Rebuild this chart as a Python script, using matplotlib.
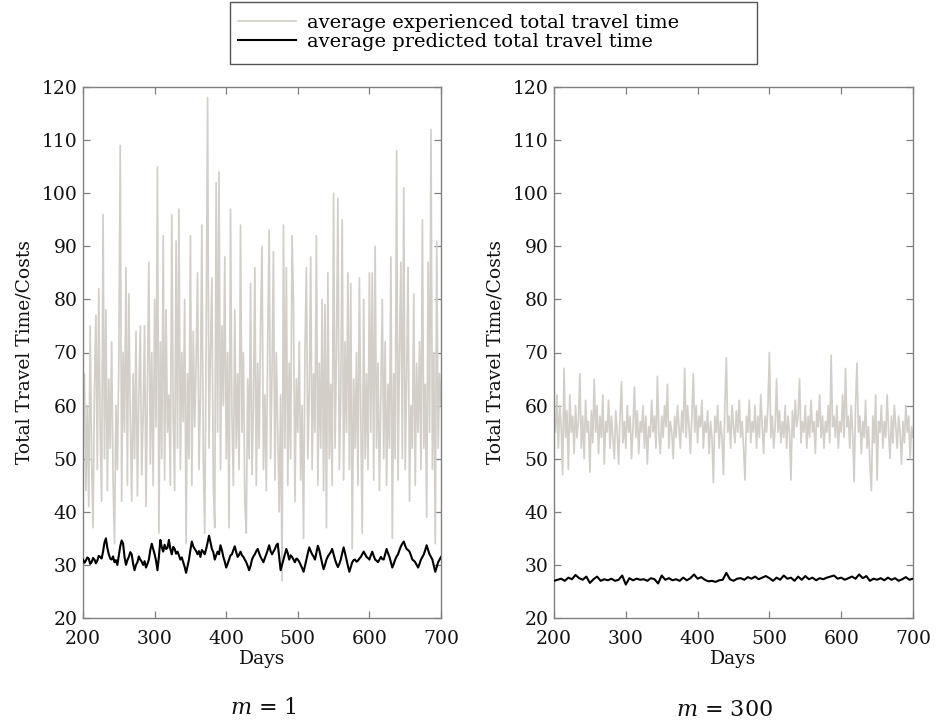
import numpy as np
import matplotlib
matplotlib.use("Agg")
import matplotlib.pyplot as plt
from matplotlib.patches import Rectangle

# ---------------- data ----------------
# m = 1, experienced (every 2 days, days 200..700)
exp_m1 = [
    58, 66, 44, 60, 41, 75, 50, 37, 63, 77,
    48, 82, 55, 42, 96, 50, 78, 44, 65, 52,
    72, 46, 34, 60, 48, 68, 109, 42, 70, 55,
    86, 45, 81, 58, 42, 66, 50, 74, 43, 62,
    75, 47, 58, 75, 41, 64, 87, 49, 70, 45,
    80, 56, 105, 36, 72, 50, 92, 46, 78, 55,
    62, 45, 96, 58, 44, 91, 52, 97, 48, 70,
    57, 80, 34, 66, 50, 92, 45, 74, 56, 68,
    85, 48, 62, 94, 50, 36, 72, 118, 52, 70,
    84, 45, 37, 102, 55, 104, 48, 75, 60, 88,
    50, 70, 37, 97, 58, 45, 78, 52, 66, 48,
    94, 55, 70, 42, 36, 65, 50, 83, 47, 60,
    86, 45, 68, 52, 75, 90, 48, 62, 44, 72,
    93, 50, 66, 89, 46, 70, 55, 40, 62, 27,
    94, 52, 86, 45, 68, 50, 92, 79, 42, 65,
    55, 72, 46, 60, 35, 70, 86, 50, 62, 88,
    48, 66, 55, 92, 45, 68, 52, 80, 44, 79,
    37, 85, 50, 64, 45, 100, 52, 70, 99, 48,
    62, 95, 46, 72, 55, 85, 48, 83, 33, 65,
    52, 70, 45, 84, 58, 36, 80, 50, 66, 48,
    85, 55, 85, 46, 90, 52, 68, 44, 62, 80,
    50, 72, 45, 64, 52, 88, 35, 66, 50, 108,
    46, 70, 87, 50, 101, 48, 65, 86, 42, 60,
    52, 81, 45, 68, 55, 72, 48, 95, 52, 64,
    39, 87, 55, 112, 48, 70, 34, 91, 52, 66,
    60,
]

# m = 1, predicted (every 2 days, days 200..700)
pred_m1 = [
    31.0, 30.4, 30.8, 31.4, 31.2, 30.2, 30.5, 31.3, 31.0, 30.3,
    30.8, 31.7, 31.5, 31.2, 32.5, 34.2, 35.0, 33.2, 32.0, 31.2,
    31.0, 31.6, 30.5, 30.9, 30.0, 31.8, 33.5, 34.6, 34.0, 31.5,
    30.0, 30.9, 31.5, 32.4, 32.0, 30.2, 29.0, 30.0, 30.5, 31.6,
    31.0, 30.6, 30.0, 30.7, 29.5, 30.2, 31.0, 32.8, 34.0, 33.0,
    32.0, 30.8, 29.0, 31.5, 34.7, 33.4, 32.5, 33.8, 33.0, 33.2,
    34.7, 33.0, 32.0, 33.4, 33.0, 32.1, 32.5, 31.8, 31.0, 31.4,
    30.5, 29.6, 28.5, 29.8, 31.0, 32.8, 34.4, 33.5, 33.0, 32.6,
    32.0, 32.6, 31.5, 32.8, 32.5, 32.0, 33.0, 34.2, 35.5, 34.3,
    33.0, 32.4, 31.0, 31.8, 32.5, 32.0, 33.7, 32.8, 31.5, 30.6,
    29.5, 30.2, 31.0, 31.8, 32.0, 32.8, 33.5, 32.4, 31.5, 31.9,
    32.5, 31.8, 31.5, 31.0, 30.5, 29.8, 29.0, 29.8, 31.0, 31.6,
    32.0, 32.6, 33.0, 32.2, 31.5, 31.0, 30.5, 31.3, 32.0, 32.8,
    33.7, 32.6, 32.0, 32.5, 33.0, 33.7, 34.0, 31.5, 29.0, 30.0,
    31.0, 32.0, 33.0, 32.2, 31.0, 31.8, 31.5, 31.0, 30.5, 31.2,
    31.0, 30.6, 30.0, 29.4, 28.7, 29.8, 31.0, 32.2, 33.3, 32.6,
    32.0, 31.6, 31.0, 32.3, 33.6, 32.8, 31.5, 30.3, 29.2, 30.0,
    31.0, 31.6, 32.0, 32.4, 33.0, 32.0, 31.0, 30.2, 29.6, 30.2,
    31.0, 32.2, 33.3, 32.2, 31.0, 29.8, 28.7, 29.6, 30.5, 30.9,
    31.0, 30.6, 30.8, 31.2, 31.5, 32.0, 32.5, 32.0, 31.5, 31.3,
    31.0, 31.8, 32.5, 31.7, 31.0, 30.8, 30.5, 31.0, 31.5, 31.1,
    31.0, 32.0, 33.0, 32.2, 31.5, 30.5, 29.5, 30.2, 31.0, 31.6,
    32.0, 32.8, 33.5, 34.0, 34.4, 33.6, 33.0, 32.8, 32.5, 31.8,
    31.0, 30.8, 30.5, 30.0, 29.5, 30.2, 31.0, 31.5, 32.0, 32.8,
    33.7, 32.8, 32.0, 31.5, 31.0, 29.8, 28.7, 29.6, 30.5, 31.0,
    31.5,
]

# m = 300, experienced (every 2 days, days 200..700)
exp_m300 = [
    58, 55, 62, 52, 60, 56, 47, 67, 54, 59,
    48, 62, 55, 58, 51, 60, 54, 57, 66, 52,
    58, 50, 61, 55, 57, 47.5, 59, 53, 65, 55,
    60, 51, 58, 54, 62, 49, 57, 55, 61, 52,
    58, 54, 50, 59, 55, 49, 58, 64.5, 53, 57,
    52, 60, 55, 58, 50, 56, 63.5, 54, 59, 51,
    57, 55, 60, 52, 58, 49, 56, 54, 61, 55,
    58, 52, 65.5, 55, 51, 58, 54, 60, 56, 64,
    52, 57, 55, 50, 58, 54, 60, 56, 52, 59,
    55, 67, 54, 60, 56, 51, 58, 66, 55, 60,
    53, 58, 56, 61, 52, 57, 55, 59, 51, 57,
    54, 45.5, 58, 55, 60, 52, 57, 54, 47, 60,
    69, 55, 58, 52, 60, 56, 53, 59, 55, 61,
    54, 57, 52, 46, 58, 55, 61, 53, 57, 55,
    60, 52, 58, 54, 62, 56, 51, 58, 55, 60,
    70, 54, 58, 52, 56, 65, 55, 59, 53, 57,
    54, 60, 52, 58, 55, 46, 59, 54, 61, 56,
    58, 65, 53, 57, 55, 60, 52, 58, 54, 61,
    55, 57, 51, 59, 56, 62, 54, 58, 52, 57,
    55, 60, 53, 69.5, 56, 58, 54, 60, 52, 57,
    55, 62, 54, 67, 56, 58, 52, 60, 55, 45.7,
    60, 68, 55, 58, 51, 57, 54, 61, 52, 56,
    49, 44, 58, 53, 62, 46, 57, 55, 60, 52,
    57, 54, 62, 55, 50, 58, 53, 60, 56, 52,
    58, 55, 49, 57, 53, 60, 55, 58, 50, 56,
    54,
]

# m = 300, predicted (every 5 days, days 200..700)
pred_m300 = [
    27.0, 27.2, 27.4, 27.0, 27.6, 27.3, 28.1, 27.5, 27.2, 27.8,
    26.6, 27.3, 27.8, 27.0, 27.3, 27.1, 27.4, 27.0, 27.2, 28.0,
    26.3, 27.5, 27.1, 27.4, 27.2, 27.3, 27.0, 27.5, 27.3, 26.5,
    28.0, 27.2, 27.5, 27.1, 27.3, 27.0, 27.6, 27.1, 27.5, 28.2,
    27.4, 27.7, 27.2, 26.9, 27.0, 26.8, 27.1, 27.2, 28.5, 27.3,
    27.0, 27.4, 27.5, 27.2, 27.7, 27.4, 27.8, 27.3, 27.6, 27.9,
    27.5, 27.0, 27.6, 27.2, 28.0, 27.4, 27.6, 27.0, 27.8, 27.2,
    27.9, 27.3, 27.6, 27.1, 27.5, 27.3, 27.6, 27.8, 28.0, 27.4,
    27.6, 27.2, 27.5, 27.8, 27.4, 28.2, 27.5, 27.9, 27.0, 27.4,
    27.2, 27.5, 27.1, 27.6, 27.2, 27.5, 27.0, 27.3, 27.7, 27.2,
    27.4,
]

legend_labels = ["average experienced total travel time",
                 "average predicted total travel time"]
panel_labels = [r"$m$ = 1", r"$m$ = 300"]
x_ticks = [200, 300, 400, 500, 600, 700]
y_ticks = [20, 30, 40, 50, 60, 70, 80, 90, 100, 110, 120]

# ---------------- style ----------------
GRAY = "#d3cfc8"
SPINE = "#808080"
W, H = 936, 724
plt.rcParams["font.family"] = ["DejaVu Serif"]
plt.rcParams["mathtext.fontset"] = "dejavuserif"

fig = plt.figure(figsize=(W / 100, H / 100), dpi=100)

def ax_rect(x0, y0, x1, y1):
    return [x0 / W, 1 - y1 / H, (x1 - x0) / W, (y1 - y0) / H]

ax1 = fig.add_axes(ax_rect(83, 87, 441, 618))
ax2 = fig.add_axes(ax_rect(554, 87, 913, 618))

handles = None
for ax, exp, pred in [(ax1, exp_m1, pred_m1), (ax2, exp_m300, pred_m300)]:
    d_exp = np.linspace(200, 700, len(exp))
    d_pred = np.linspace(200, 700, len(pred))
    h1, = ax.plot(d_exp, exp, color=GRAY, lw=1.25, zorder=2)
    h2, = ax.plot(d_pred, pred, color="black", lw=1.5, zorder=3)
    handles = [h1, h2]
    ax.set_xlim(200, 700)
    ax.set_ylim(20, 120)
    ax.set_xticks(x_ticks)
    ax.set_yticks(y_ticks)
    ax.tick_params(direction="in", length=5, width=0.9, color=SPINE,
                   top=True, right=True, labelsize=13.5, labelcolor="#111111")
    ax.tick_params(axis="x", pad=9)
    ax.tick_params(axis="y", pad=4)
    for s in ax.spines.values():
        s.set_color(SPINE)
        s.set_linewidth(1.0)
    ax.set_xlabel("Days", fontsize=13.5, labelpad=1, color="#111111")
    ax.set_ylabel("Total Travel Time/Costs", fontsize=13.5, labelpad=6,
                  color="#111111")

fig.text(263 / W, 1 - 708 / H, panel_labels[0], ha="center", va="center",
         fontsize=16, color="#111111")
fig.text(724 / W, 1 - 710 / H, panel_labels[1], ha="center", va="center",
         fontsize=16, color="#111111")

leg = fig.legend(handles, legend_labels, loc="upper left",
                 bbox_to_anchor=(238 / W, 1 - 14 / H), fontsize=14,
                 frameon=False, handlelength=3.0,
                 handletextpad=0.55, borderpad=0.0, labelspacing=0.05,
                 borderaxespad=0)
fig.patches.append(Rectangle((230 / W, 1 - 64 / H), 527 / W, 62 / H,
                             transform=fig.transFigure, fill=False,
                             edgecolor="#555555", linewidth=1.0))

fig.savefig("out.png", dpi=100)
